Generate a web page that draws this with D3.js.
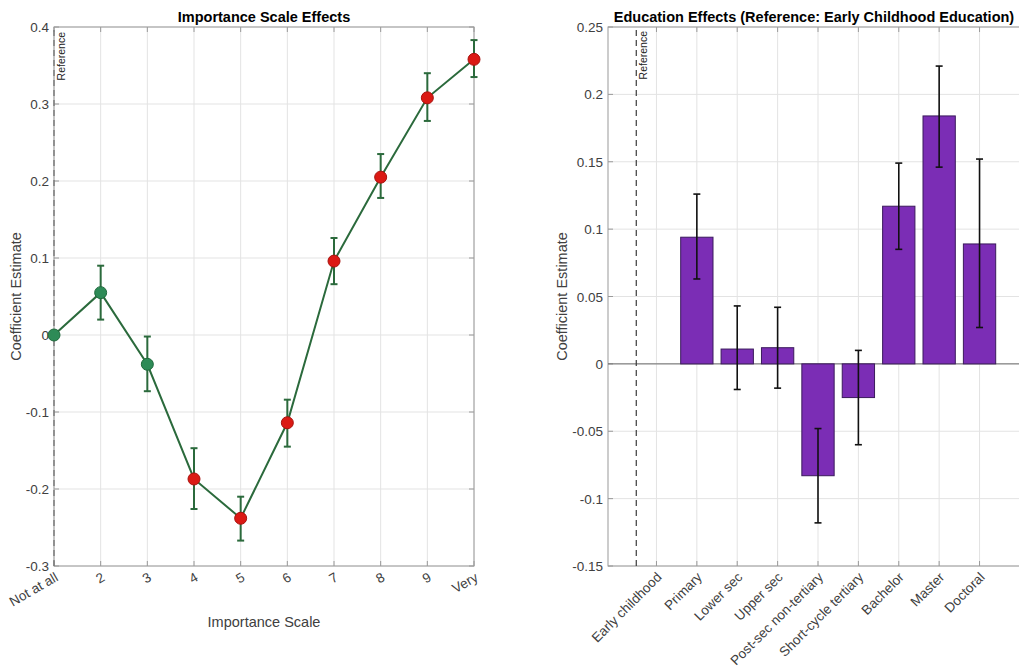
<!DOCTYPE html>
<html lang="en">
<head>
  <meta charset="UTF-8">
  <title>Importance Scale and Education Effects</title>
  <script src="https://d3js.org/d3.v7.min.js"></script>
  <style>
    body { margin: 0; background: #fff; }
    text { font-family: "Liberation Sans", Arial, sans-serif; fill: #404040; }
    .title { font-size: 14.5px; font-weight: bold; fill: #000; }
    .label { font-size: 14.5px; fill: #404040; }
    .tick-label { font-size: 13.5px; }
    .grid { stroke: #e3e3e3; stroke-width: 1; }
    .frame { fill: none; stroke: #9a9a9a; stroke-width: 1; }
    .tick { stroke: #9a9a9a; stroke-width: 1; }
  </style>
</head>
<body>
  <svg width="1019" height="668"></svg>
  <script>
    // left panel: importance scale
    const scaleLabels = ["Not at all", "2", "3", "4", "5", "6", "7", "8", "9", "Very"];
    const scaleCoef = [0, 0.055, -0.038, -0.187, -0.238, -0.114, 0.096, 0.205, 0.308, 0.358];
    const scaleLow = [null, 0.020, -0.073, -0.226, -0.267, -0.145, 0.066, 0.178, 0.278, 0.335];
    const scaleHigh = [null, 0.090, -0.002, -0.147, -0.210, -0.084, 0.126, 0.235, 0.340, 0.383];
    const scaleSig = [false, false, false, true, true, true, true, true, true, true];
    const scaleYTicks = [-0.3, -0.2, -0.1, 0, 0.1, 0.2, 0.3, 0.4];

    // right panel: education
    const eduLabels = ["Early childhood", "Primary", "Lower sec", "Upper sec", "Post-sec non-tertiary",
      "Short-cycle tertiary", "Bachelor", "Master", "Doctoral"];
    const eduCoef = [0, 0.094, 0.011, 0.012, -0.083, -0.025, 0.117, 0.184, 0.089];
    const eduLow = [null, 0.063, -0.019, -0.018, -0.118, -0.060, 0.085, 0.146, 0.027];
    const eduHigh = [null, 0.126, 0.043, 0.042, -0.048, 0.010, 0.149, 0.221, 0.152];
    const eduYTicks = [-0.15, -0.1, -0.05, 0, 0.05, 0.1, 0.15, 0.2, 0.25];

    const svg = d3.select("svg");
    const fmt = d => String(+d.toFixed(2));

    function frame(g, x, y, xTicks, yTicks) {
      const [x0, x1] = x.range();
      const [y0, y1] = y.range();
      g.selectAll(".gx").data(xTicks).enter().append("line")
        .attr("class", "grid")
        .attr("x1", d => x(d)).attr("x2", d => x(d))
        .attr("y1", y0).attr("y2", y1);
      g.selectAll(".gy").data(yTicks).enter().append("line")
        .attr("class", "grid")
        .attr("x1", x0).attr("x2", x1)
        .attr("y1", d => y(d)).attr("y2", d => y(d));
      g.append("rect").attr("class", "frame")
        .attr("x", x0).attr("y", y1)
        .attr("width", x1 - x0).attr("height", y0 - y1);
      // ticks inside, on all four sides
      xTicks.forEach(t => {
        g.append("line").attr("class", "tick").attr("x1", x(t)).attr("x2", x(t)).attr("y1", y0).attr("y2", y0 - 5);
        g.append("line").attr("class", "tick").attr("x1", x(t)).attr("x2", x(t)).attr("y1", y1).attr("y2", y1 + 5);
      });
      yTicks.forEach(t => {
        g.append("line").attr("class", "tick").attr("x1", x0).attr("x2", x0 + 5).attr("y1", y(t)).attr("y2", y(t));
        g.append("line").attr("class", "tick").attr("x1", x1).attr("x2", x1 - 5).attr("y1", y(t)).attr("y2", y(t));
      });
      g.selectAll(".yl").data(yTicks).enter().append("text")
        .attr("class", "tick-label")
        .attr("x", x0 - 5).attr("y", d => y(d) + 5)
        .attr("text-anchor", "end")
        .text(fmt);
    }

    // ---------- left ----------
    const xL = d3.scaleLinear().domain([1, 10]).range([54, 474]);
    const yL = d3.scaleLinear().domain([-0.3, 0.4]).range([566, 27]);
    const gL = svg.append("g");
    const idxL = d3.range(1, 11);
    frame(gL, xL, yL, idxL, scaleYTicks);

    gL.append("line")
      .attr("x1", xL(1)).attr("x2", xL(1)).attr("y1", yL(-0.3)).attr("y2", yL(0.4))
      .attr("stroke", "#6e6e6e").attr("stroke-width", 1.2).attr("stroke-dasharray", "6,4");
    gL.append("text")
      .attr("transform", `translate(${xL(1) + 11},${yL(0.4) + 5}) rotate(-90)`)
      .attr("text-anchor", "end")
      .style("font-size", "10.5px").style("fill", "#222")
      .text("Reference");

    gL.selectAll(".xl").data(scaleLabels).enter().append("text")
      .attr("class", "tick-label")
      .attr("text-anchor", "end")
      .attr("transform", (d, i) => `translate(${xL(i + 1) + 5},${yL(-0.3) + 14}) rotate(-30)`)
      .text(d => d);

    const line = d3.line().x((d, i) => xL(i + 1)).y(d => yL(d));
    gL.append("path").datum(scaleCoef)
      .attr("d", line)
      .attr("fill", "none").attr("stroke", "#2b6a3c").attr("stroke-width", 2);

    const errL = idxL.map((v, i) => ({ x: v, lo: scaleLow[i], hi: scaleHigh[i] })).filter(d => d.lo !== null);
    const eb = gL.selectAll(".eb").data(errL).enter().append("g")
      .attr("stroke", "#2b6a3c").attr("stroke-width", 2);
    eb.append("line").attr("x1", d => xL(d.x)).attr("x2", d => xL(d.x)).attr("y1", d => yL(d.lo)).attr("y2", d => yL(d.hi));
    eb.append("line").attr("x1", d => xL(d.x) - 3.5).attr("x2", d => xL(d.x) + 3.5).attr("y1", d => yL(d.lo)).attr("y2", d => yL(d.lo));
    eb.append("line").attr("x1", d => xL(d.x) - 3.5).attr("x2", d => xL(d.x) + 3.5).attr("y1", d => yL(d.hi)).attr("y2", d => yL(d.hi));

    gL.selectAll(".pt").data(scaleCoef).enter().append("circle")
      .attr("cx", (d, i) => xL(i + 1)).attr("cy", d => yL(d))
      .attr("r", 6)
      .attr("fill", (d, i) => scaleSig[i] ? "#db1a14" : "#2e8b57")
      .attr("stroke", (d, i) => scaleSig[i] ? "#a8120e" : "#1f6a3c")
      .attr("stroke-width", 1);

    gL.append("text").attr("class", "title")
      .attr("x", 264).attr("y", 22).attr("text-anchor", "middle")
      .text("Importance Scale Effects");
    gL.append("text").attr("class", "label")
      .attr("x", 264).attr("y", 627).attr("text-anchor", "middle")
      .text("Importance Scale");
    gL.append("text").attr("class", "label")
      .attr("transform", `translate(21,${(27 + 566) / 2}) rotate(-90)`)
      .attr("text-anchor", "middle")
      .text("Coefficient Estimate");

    // ---------- right ----------
    const xR = d3.scaleLinear().domain([-1.2, 9.2]).range([608, 1028]);
    const yR = d3.scaleLinear().domain([-0.15, 0.25]).range([566, 27]);
    const gR = svg.append("g");
    const idxR = d3.range(0, 9);
    frame(gR, xR, yR, idxR, eduYTicks);

    gR.append("line")
      .attr("x1", xR(-1.2)).attr("x2", xR(9.2)).attr("y1", yR(0)).attr("y2", yR(0))
      .attr("stroke", "#6a6a6a").attr("stroke-width", 1);

    const bw = xR(0.4) - xR(0);
    gR.selectAll(".bar").data(eduCoef).enter().append("rect")
      .attr("x", (d, i) => xR(i) - bw)
      .attr("width", bw * 2)
      .attr("y", d => yR(Math.max(0, d)))
      .attr("height", d => Math.abs(yR(d) - yR(0)))
      .attr("fill", "#7b2db5").attr("stroke", "#3b1a5c").attr("stroke-width", 1);

    const errR = idxR.map(i => ({ x: i, lo: eduLow[i], hi: eduHigh[i] })).filter(d => d.lo !== null);
    const ebR = gR.selectAll(".ebr").data(errR).enter().append("g")
      .attr("stroke", "#111").attr("stroke-width", 1.6);
    ebR.append("line").attr("x1", d => xR(d.x)).attr("x2", d => xR(d.x)).attr("y1", d => yR(d.lo)).attr("y2", d => yR(d.hi));
    ebR.append("line").attr("x1", d => xR(d.x) - 3.5).attr("x2", d => xR(d.x) + 3.5).attr("y1", d => yR(d.lo)).attr("y2", d => yR(d.lo));
    ebR.append("line").attr("x1", d => xR(d.x) - 3.5).attr("x2", d => xR(d.x) + 3.5).attr("y1", d => yR(d.hi)).attr("y2", d => yR(d.hi));

    gR.append("line")
      .attr("x1", xR(-0.5)).attr("x2", xR(-0.5)).attr("y1", yR(-0.15)).attr("y2", yR(0.25))
      .attr("stroke", "#3a3a3a").attr("stroke-width", 1.2).attr("stroke-dasharray", "6,4");
    gR.append("text")
      .attr("transform", `translate(${xR(-0.5) + 11},${yR(0.25) + 4}) rotate(-90)`)
      .attr("text-anchor", "end")
      .style("font-size", "10.5px").style("fill", "#222")
      .text("Reference");

    gR.selectAll(".xl").data(eduLabels).enter().append("text")
      .attr("class", "tick-label")
      .attr("text-anchor", "end")
      .attr("transform", (d, i) => `translate(${xR(i) + 6},${yR(-0.15) + 12}) rotate(-45)`)
      .text(d => d);

    gR.append("text").attr("class", "title")
      .attr("x", 814).attr("y", 22).attr("text-anchor", "middle")
      .text("Education Effects (Reference: Early Childhood Education)");
    gR.append("text").attr("class", "label")
      .attr("transform", `translate(567,${(27 + 566) / 2}) rotate(-90)`)
      .attr("text-anchor", "middle")
      .text("Coefficient Estimate");
  </script>
</body>
</html>
